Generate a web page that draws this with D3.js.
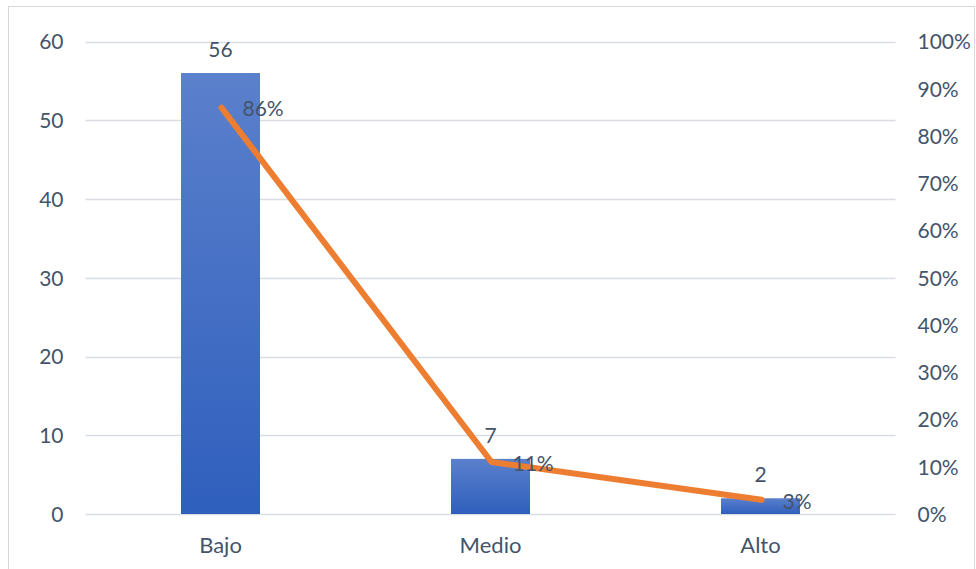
<!DOCTYPE html>
<html><head><meta charset="utf-8">
<script src="https://cdn.jsdelivr.net/npm/d3@7"></script>
<style>body{margin:0;background:#fff}svg{display:block}</style>
</head><body>
<svg id="chart" width="976" height="569"></svg>
<script>
const categories = ["Bajo", "Medio", "Alto"];
const counts = [56, 7, 2];
const percents = [0.86, 0.11, 0.03];
const leftTicks = [0, 10, 20, 30, 40, 50, 60];
const rightTicks = [0, 0.1, 0.2, 0.3, 0.4, 0.5, 0.6, 0.7, 0.8, 0.9, 1.0];

const svg = d3.select("#chart");
const pLeft = 85.5, pRight = 895.5, pTop = 41.5, pBottom = 514;
const font = "Lato, 'Open Sans', sans-serif";
const txt = "#44546a";

svg.append("rect").attr("x", 8.5).attr("y", 6.5).attr("width", 966).attr("height", 580)
  .attr("fill", "#fff").attr("stroke", "#d9d9d9").attr("stroke-width", 1);

const defs = svg.append("defs");
const grad = defs.append("linearGradient").attr("id", "barGrad")
  .attr("x1", 0).attr("y1", 0).attr("x2", 0).attr("y2", 1);
grad.append("stop").attr("offset", "0%").attr("stop-color", "#5b80cc");
grad.append("stop").attr("offset", "100%").attr("stop-color", "#2f5fbd");

const x = d3.scaleBand().domain(categories).range([pLeft, pRight]).paddingInner(0.7074).paddingOuter(0.3537);
const yL = d3.scaleLinear().domain([0, 60]).range([pBottom, pTop]);
const yR = d3.scaleLinear().domain([0, 1]).range([pBottom, pTop]);

// gridlines
svg.append("g").selectAll("line").data(leftTicks).join("line")
  .attr("x1", pLeft).attr("x2", pRight)
  .attr("y1", d => Math.round(yL(d)) + 0.5).attr("y2", d => Math.round(yL(d)) + 0.5)
  .attr("stroke", "#d9dde3").attr("stroke-width", 1.5);

// left axis
const la = svg.append("g").attr("transform", `translate(${pLeft - 22},0)`)
  .call(d3.axisLeft(yL).tickValues(leftTicks).tickSize(0).tickPadding(0));
la.select(".domain").remove();
la.selectAll("text").attr("font-family", font).attr("font-size", 21).attr("fill", txt).attr("dy", "0.35em");

// right axis
const ra = svg.append("g").attr("transform", `translate(${pRight + 22},0)`)
  .call(d3.axisRight(yR).tickValues(rightTicks).tickSize(0).tickPadding(0).tickFormat(d3.format(".0%")));
ra.select(".domain").remove();
ra.selectAll("text").attr("font-family", font).attr("font-size", 21).attr("fill", txt).attr("dy", "0.35em");

// bottom axis
const ba = svg.append("g").attr("transform", `translate(0,${pBottom})`)
  .call(d3.axisBottom(x).tickSize(0).tickPadding(23));
ba.select(".domain").remove();
ba.selectAll("text").attr("font-family", font).attr("font-size", 22).attr("fill", txt).attr("dy", "0.71em");

// bars
svg.append("g").selectAll("rect").data(categories).join("rect")
  .attr("x", d => x(d)).attr("width", x.bandwidth())
  .attr("y", (d, i) => yL(counts[i])).attr("height", (d, i) => pBottom - yL(counts[i]))
  .attr("fill", "url(#barGrad)");

// bar labels
svg.append("g").selectAll("text").data(categories).join("text")
  .attr("x", d => x(d) + x.bandwidth() / 2).attr("y", (d, i) => yL(counts[i]) - 16)
  .attr("text-anchor", "middle").attr("font-family", font).attr("font-size", 21).attr("fill", txt)
  .text((d, i) => counts[i]);

// line
const cx = d => x(d) + x.bandwidth() / 2 + 1;
const line = d3.line().x(d => cx(d)).y((d, i) => yR(percents[i]));
svg.append("path").datum(categories).attr("d", line)
  .attr("fill", "none").attr("stroke", "#ed7d31").attr("stroke-width", 6)
  .attr("stroke-linecap", "round").attr("stroke-linejoin", "round");

// line labels
svg.append("g").selectAll("text").data(categories).join("text")
  .attr("x", d => cx(d) + 21).attr("y", (d, i) => yR(percents[i]))
  .attr("dy", "0.42em").attr("font-family", font).attr("font-size", 21).attr("fill", txt)
  .text((d, i) => d3.format(".0%")(percents[i]));
</script>
</body></html>
